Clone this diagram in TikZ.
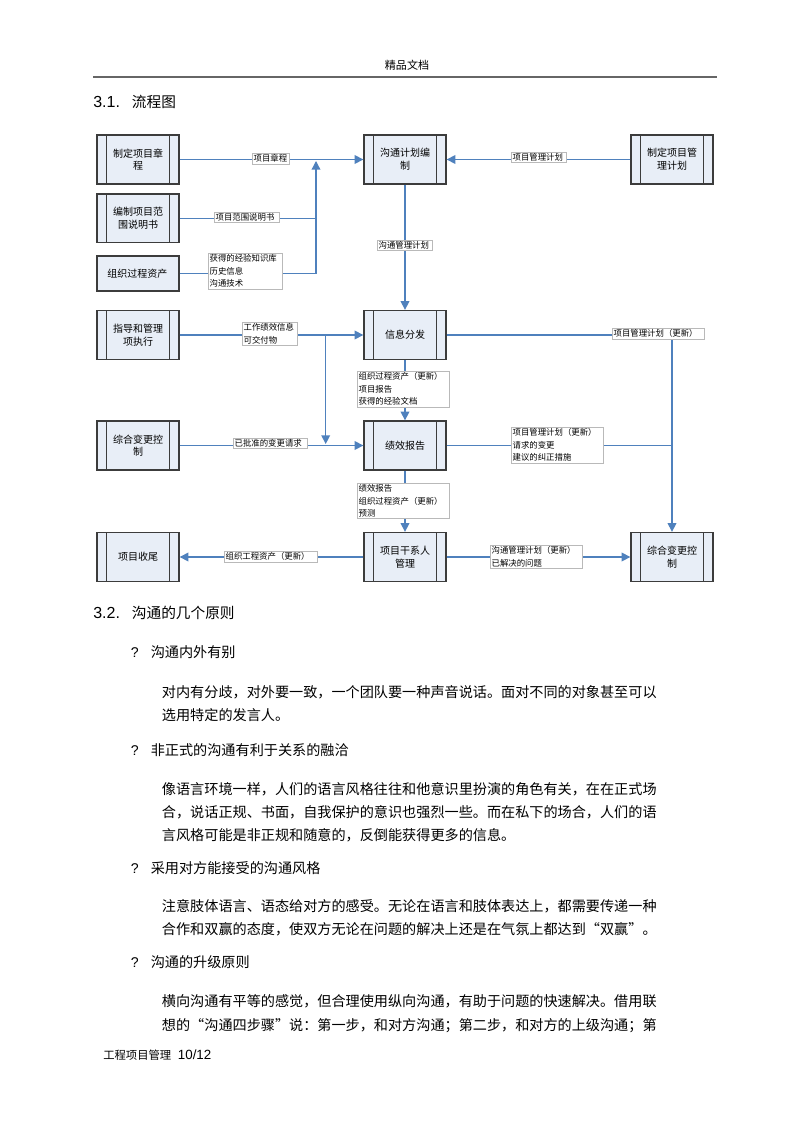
\documentclass[tikz,border=0pt]{standalone}
\usepackage{fontspec}
\setmainfont{Noto Sans CJK SC}
\newfontfamily\latinf{Liberation Sans}
\newfontfamily\fwq[CharacterWidth=Full]{Noto Sans CJK SC}
\usetikzlibrary{arrows.meta}

\definecolor{flowblue}{RGB}{79,129,189}
\definecolor{boxfill}{RGB}{232,238,247}
\definecolor{boxline}{RGB}{60,60,60}
\definecolor{lblline}{RGB}{185,185,185}

\tikzset{
  proc/.style={draw=boxline, line width=1pt, fill=boxfill,
    minimum width=61.5pt, minimum height=36.75pt, inner sep=0pt,
    align=center, font=\fontsize{7.5}{9.5}\selectfont,
    path picture={
      \draw[boxline, line width=1pt]
        ([xshift=7.1pt]path picture bounding box.north west) -- ([xshift=7.1pt]path picture bounding box.south west)
        ([xshift=-7.1pt]path picture bounding box.north east) -- ([xshift=-7.1pt]path picture bounding box.south east);
    }},
  plainbox/.style={draw=boxline, line width=1pt, fill=boxfill,
    minimum width=61.5pt, minimum height=26.25pt, inner xsep=7.75pt,
    text width=46pt, align=left, font=\fontsize{7.5}{9.5}\selectfont},
  lbl/.style={draw=lblline, line width=0.4pt, fill=white, inner sep=1pt,
    anchor=north west, align=left, font=\fontsize{6.3}{9.4}\selectfont},
  flow/.style={draw=flowblue, line width=1pt, -{Triangle[length=6.5pt,width=6.5pt]}},
  flowline/.style={draw=flowblue, line width=1pt},
  bodyline/.style={anchor=base west, inner sep=0pt, font=\fontsize{10.6}{12}\selectfont},
  headline/.style={anchor=base west, inner sep=0pt, font=\fontsize{11}{13}\selectfont},
}

\begin{document}
\begin{tikzpicture}[x=0.75pt, y=-0.75pt]
  \fill[white] (0,0) rectangle (794,1123);
  \useasboundingbox (0,0) rectangle (794,1123);

  % page header
  \node[inner sep=0pt, font=\fontsize{8.3}{10}\selectfont] (hdr) at (407,65) {精品文档};
  \draw[black!60, line width=0.8pt] (93,77) -- (717,77);

  \node[headline] (h31) at (93,108) {{\latinf\fontsize{12}{14}\selectfont 3.1.}\hspace{9pt}流程图};

  % process boxes
  \node[proc] (charter) at (138,159.5) {制定项目章\\程};
  \node[proc, minimum height=36.5pt] (scope) at (138,218.3) {编制项目范\\围说明书};
  \node[plainbox] (assets) at (138,273.5) {组织过程资产};
  \node[proc] (plan) at (405,159.5) {沟通计划编\\制};
  \node[proc] (pmplan) at (672,159.5) {制定项目管\\理计划};
  \node[proc] (direct) at (138,335) {指导和管理\\项执行};
  \node[proc] (distrib) at (405,335) {信息分发};
  \node[proc] (change) at (138,445.5) {综合变更控\\制};
  \node[proc] (report) at (405,445.5) {绩效报告};
  \node[proc] (close) at (138,557) {项目收尾};
  \node[proc] (stake) at (405,557) {项目干系人\\管理};
  \node[proc] (ctrl) at (672,557) {综合变更控\\制};

  % junctions
  \coordinate (j1) at (316,273.5);
  \coordinate (j1t) at (316,161);
  \coordinate (j2) at (325.7,335);
  \coordinate (j2b) at (325.7,444);
  \coordinate (j3) at (672,335);

  % connectors
  \draw[flow] (charter) -- (plan);
  \draw[flow] (pmplan) -- (plan);
  \draw[flowline] (scope.east) -- (scope.east -| j1);
  \draw[flow] (assets) -- (j1) -- (j1t);
  \draw[flow] (plan) -- (distrib);
  \draw[flow] (direct) -- (distrib);
  \draw[flow] (j2) -- (j2b);
  \draw[flow] (change) -- (report);
  \draw[flow] (distrib) -- (report);
  \draw[flow] (distrib) -- (j3) -- (ctrl);
  \draw[flowline] (report) -- (report -| j3);
  \draw[flow] (report) -- (stake);
  \draw[flow] (stake) -- (close);
  \draw[flow] (stake) -- (ctrl);

  % labels
  \node[lbl, text width=25.75pt] (l1) at (252,153) {项目章程};
  \node[lbl, text width=46.75pt] (l2) at (214,212) {项目范围说明书};
  \node[lbl, text width=53.5pt] (l3) at (208,253) {获得的经验知识库\\历史信息\\沟通技术};
  \node[lbl, text width=39.25pt] (l4) at (511,152) {项目管理计划};
  \node[lbl, text width=39.25pt] (l5) at (377,240) {沟通管理计划};
  \node[lbl, text width=39.25pt] (l6) at (242,322) {工作绩效信息\\可交付物};
  \node[lbl, text width=67pt] (l7) at (357,371) {组织过程资产（更新）\\项目报告\\获得的经验文档};
  \node[lbl, text width=67pt] (l8) at (612,328) {项目管理计划（更新）};
  \node[lbl, text width=53.5pt] (l9) at (233,438) {已批准的变更请求};
  \node[lbl, text width=67pt] (l10) at (511,427) {项目管理计划（更新）\\请求的变更\\建议的纠正措施};
  \node[lbl, text width=67pt] (l11) at (357,483) {绩效报告\\组织过程资产（更新）\\预测};
  \node[lbl, text width=67.75pt] (l12) at (224,551) {组织工程资产（更新）};
  \node[lbl, text width=67pt] (l13) at (490,545) {沟通管理计划（更新）\\已解决的问题};

  % text below the chart
  \node[headline] (h32) at (93,618) {{\latinf\fontsize{12}{14}\selectfont 3.2.}\hspace{9pt}沟通的几个原则};

  \node[bodyline] (b1) at (130.7,657) {{\latinf ?}\hspace{9pt}沟通内外有别};
  \node[bodyline] (p1a) at (161.7,697) {对内有分歧，对外要一致，一个团队要一种声音说话。面对不同的对象甚至可以};
  \node[bodyline] (p1b) at (161.7,720) {选用特定的发言人。};

  \node[bodyline] (b2) at (130.7,755) {{\latinf ?}\hspace{9pt}非正式的沟通有利于关系的融洽};
  \node[bodyline] (p2a) at (161.7,794) {像语言环境一样，人们的语言风格往往和他意识里扮演的角色有关，在在正式场};
  \node[bodyline] (p2b) at (161.7,817) {合，说话正规、书面，自我保护的意识也强烈一些。而在私下的场合，人们的语};
  \node[bodyline] (p2c) at (161.7,840) {言风格可能是非正规和随意的，反倒能获得更多的信息。};

  \node[bodyline] (b3) at (130.7,873) {{\latinf ?}\hspace{9pt}采用对方能接受的沟通风格};
  \node[bodyline] (p3a) at (161.7,911) {注意肢体语言、语态给对方的感受。无论在语言和肢体表达上，都需要传递一种};
  \node[bodyline] (p3b) at (161.7,934) {合作和双赢的态度，使双方无论在问题的解决上还是在气氛上都达到{\fwq “}双赢{\fwq ”}。};

  \node[bodyline] (b4) at (130.7,967) {{\latinf ?}\hspace{9pt}沟通的升级原则};
  \node[bodyline] (p4a) at (161.7,1006) {横向沟通有平等的感觉，但合理使用纵向沟通，有助于问题的快速解决。借用联};
  \node[bodyline] (p4b) at (161.7,1030) {想的{\fwq “}沟通四步骤{\fwq ”}说：第一步，和对方沟通；第二步，和对方的上级沟通；第};

  % page footer
  \node[anchor=base west, inner sep=0pt, font=\fontsize{8.5}{10}\selectfont] (ftr) at (103,1059) {工程项目管理\hspace{5pt}{\latinf\fontsize{10}{12}\selectfont 10/12}};
\end{tikzpicture}
\end{document}
